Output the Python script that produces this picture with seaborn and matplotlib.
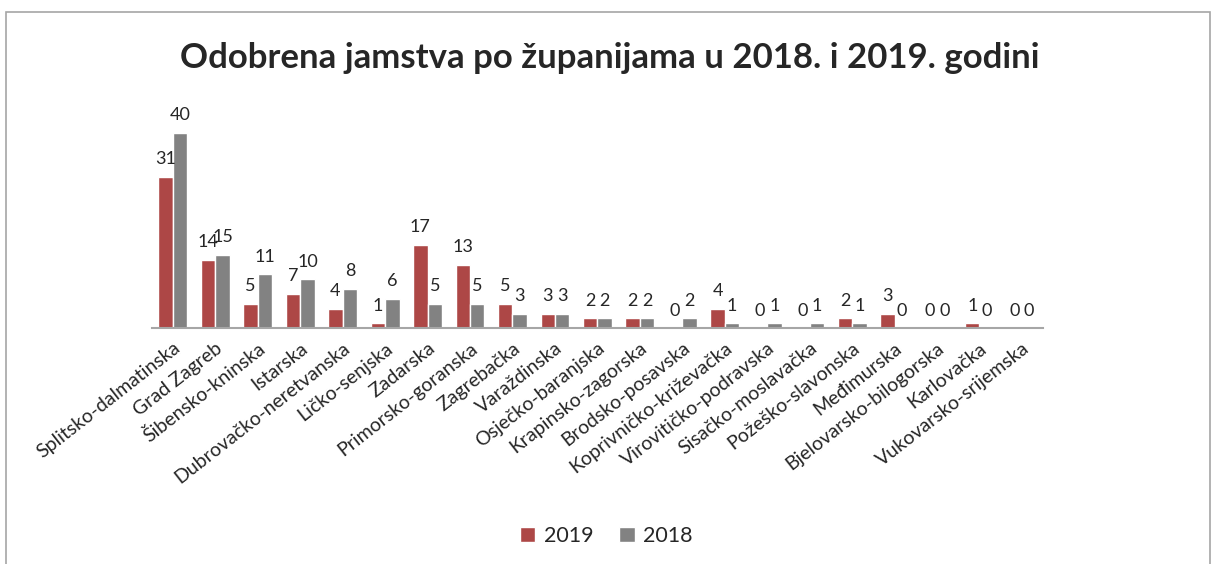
import pandas as pd
import matplotlib.pyplot as plt
import seaborn as sns
from matplotlib.patches import Rectangle

# podaci
zupanije = ['Splitsko-dalmatinska', 'Grad Zagreb', 'Šibensko-kninska', 'Istarska',
            'Dubrovačko-neretvanska', 'Ličko-senjska', 'Zadarska', 'Primorsko-goranska',
            'Zagrebačka', 'Varaždinska', 'Osječko-baranjska', 'Krapinsko-zagorska',
            'Brodsko-posavska', 'Koprivničko-križevačka', 'Virovitičko-podravska',
            'Sisačko-moslavačka', 'Požeško-slavonska', 'Međimurska', 'Bjelovarsko-bilogorska',
            'Karlovačka', 'Vukovarsko-srijemska']
jamstva_2019 = [31, 14, 5, 7, 4, 1, 17, 13, 5, 3, 2, 2, 0, 4, 0, 0, 2, 3, 0, 1, 0]
jamstva_2018 = [40, 15, 11, 10, 8, 6, 5, 5, 3, 3, 2, 2, 2, 1, 1, 1, 1, 0, 0, 0, 0]
godine = ['2019', '2018']
boje = ['#AD4746', '#828282']

df = pd.DataFrame({
    'zupanija': zupanije * 2,
    'godina': ['2019'] * len(zupanije) + ['2018'] * len(zupanije),
    'broj': jamstva_2019 + jamstva_2018,
})

sns.set_style('white')
plt.rcParams['font.family'] = ['Lato', 'DejaVu Sans']

fig = plt.figure(figsize=(12.13, 5.64), dpi=100)
ax = fig.add_axes([0.125, 0.418, 0.735, 0.39])

sns.barplot(data=df, x='zupanija', y='broj', hue='godina', hue_order=godine,
            palette=boje, width=0.68, saturation=1, ax=ax)

for cont in ax.containers:
    ax.bar_label(cont, fmt='%d', padding=7, fontsize=13)

ax.set_ylim(0, 45)
ax.set_xlim(-0.5, len(zupanije) - 0.5)
ax.set_xlabel('')
ax.set_ylabel('')
ax.set_yticks([])
ax.tick_params(axis='x', length=0, pad=8)
ax.set_xticks(range(len(zupanije)))
ax.set_xticklabels(zupanije, rotation=38, ha='right', rotation_mode='anchor', fontsize=14)
for s in ['top', 'right', 'left']:
    ax.spines[s].set_visible(False)
ax.spines['bottom'].set_color('#A6A6A6')
ax.spines['bottom'].set_linewidth(1.5)

ax.legend(loc='center', bbox_to_anchor=(0.5, 0.05), bbox_transform=fig.transFigure,
          ncol=2, frameon=False, fontsize=15.5, handlelength=0.7, handleheight=0.7,
          handletextpad=0.4, columnspacing=1.2)

fig.text(0.503, 0.897, 'Odobrena jamstva po županijama u 2018. i 2019. godini',
         ha='center', va='center', fontsize=25, fontweight='bold')

# okvir grafikona
fig.patches.append(Rectangle((6 / 1213, -0.1), 1204 / 1213, 1.1 - 12 / 564,
                             transform=fig.transFigure, fill=False,
                             edgecolor='#A6A6A6', linewidth=1.2))

fig.savefig('out.png', dpi=100)
